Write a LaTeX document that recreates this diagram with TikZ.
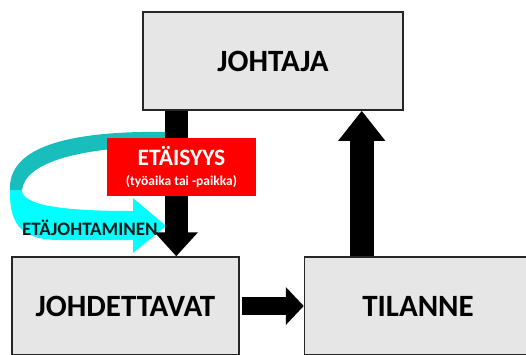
\documentclass[tikz,border=0pt]{standalone}
\usepackage{fontspec}
\setmainfont{Carlito}
\usepackage{xcolor}
\usepackage{tikz}
\definecolor{boxgray}{RGB}{230,230,230}
\definecolor{ribbonlight}{RGB}{0,255,255}
\definecolor{ribbondark}{RGB}{24,190,188}
\definecolor{alertred}{RGB}{255,0,0}
\usetikzlibrary{positioning,arrows.meta,calc}

\begin{document}
\begin{tikzpicture}[
    x=1pt, y=-1pt,
    box/.style={rectangle, minimum width=227pt, minimum height=98pt, text centered, draw=black!85, line width=1.5pt, fill=boxgray, font=\bfseries\fontsize{31}{36}\selectfont},
    alert/.style={rectangle, minimum width=149pt, minimum height=58pt, align=center, inner sep=0pt, fill=alertred, text=white, font=\bfseries\fontsize{13.5}{20}\selectfont},
    downarrow/.style={line width=23pt, -{Triangle[length=24pt, width=42pt]}},
    uparrow/.style={line width=24pt, -{Triangle[length=30pt, width=45pt]}},
    rightarrow/.style={line width=18pt, -{Triangle[length=18pt, width=37pt]}, shorten <=2pt}
]
\useasboundingbox (0,0) rectangle (526,354);
\clip (0,0) rectangle (526,354);

% Boxes
\node[box, minimum width=260pt] (johtaja) at (273,61) {JOHTAJA};
\node[box] (johdettavat) at (125.5,306) {JOHDETTAVAT};
\node[box, right=64pt of johdettavat] (tilanne) {TILANNE};

% Ribbon (back and front)
\fill[ribbondark] (170,132) .. controls (60,130) and (8,150) .. (10,190)
    -- (22,190) .. controls (25,165) and (70,147) .. (170,146) -- cycle;
\fill[ribbonlight] (10,190) .. controls (9,228) and (25,240) .. (60,240)
    -- (133,240) -- (133,253) -- (166,226) -- (133,198) -- (133,211)
    .. controls (60,211) and (22,205) .. (22,190) -- cycle;

% Arrows
\coordinate (downstart) at ([xshift=34pt]johtaja.south west);
\coordinate (upstart) at ([xshift=58pt]tilanne.north west);
\draw[downarrow] (downstart) -- (downstart |- johdettavat.north);
\draw[uparrow] (upstart) -- (upstart |- johtaja.south);
\draw[rightarrow] (johdettavat.east) -- (tilanne.west);

% Distance box
\node[alert] (etaisyys) at (181.5,167) {{\fontsize{23.5}{26}\selectfont ETÄISYYS}\\(työaika tai -paikka)};

% Ribbon label
\node[anchor=base west, inner sep=0pt, font=\bfseries\fontsize{19}{22}\selectfont, text=black!90] (etajohtaminen) at (22,235) {ETÄJOHTAMINEN};

\end{tikzpicture}
\end{document}
